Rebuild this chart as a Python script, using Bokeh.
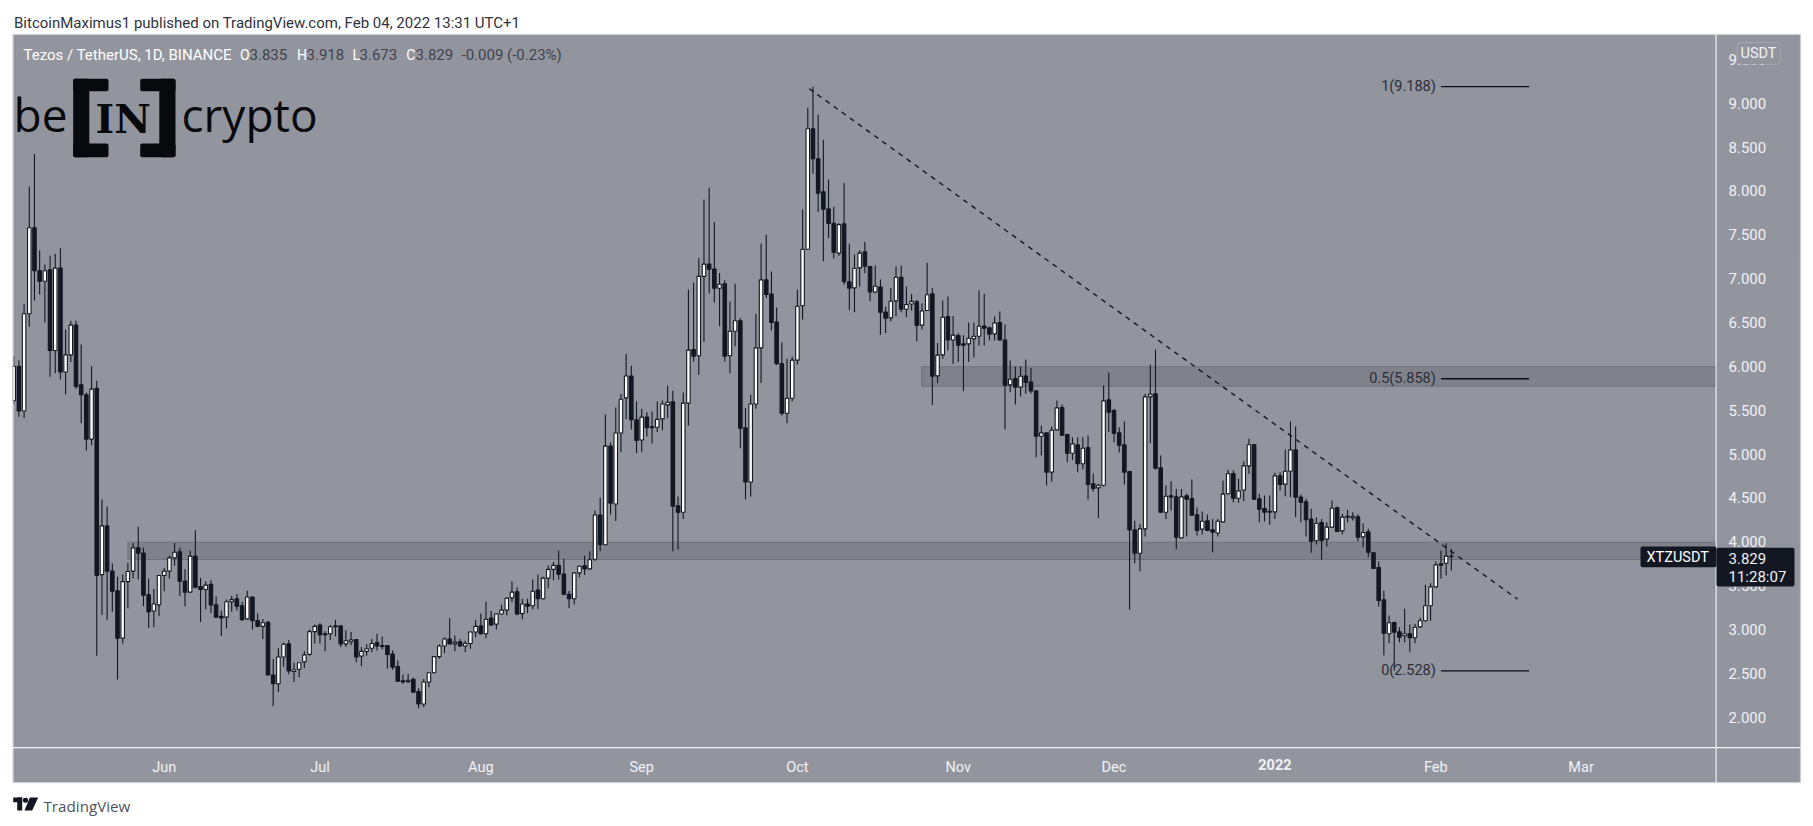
import pandas as pd
from bokeh.embed import file_html
from bokeh.resources import INLINE
from bokeh.plotting import figure
from bokeh.models import (BoxAnnotation, ColumnDataSource, FixedTicker, Label, NumeralTickFormatter,
                          PolyAnnotation, Range1d)

first_day = "2021-05-03"

opens = [5.608,
    6.00,5.49,6.60,7.58,7.09,6.97,7.10,6.18,7.12,5.935,
    6.13,6.47,5.79,5.675,5.17,5.75,3.625,4.18,3.665,3.44,
    2.90,3.545,3.665,3.93,3.87,3.395,3.21,3.28,3.615,3.665,
    3.815,3.885,3.55,3.425,3.835,3.49,3.455,3.515,3.28,3.15,
    3.14,3.315,3.35,3.27,3.12,3.37,3.10,3.035,3.08,2.48,
    2.38,2.685,2.835,2.52,2.545,2.63,2.715,2.975,3.05,2.95,
    2.95,3.04,3.04,2.835,2.86,2.885,2.695,2.75,2.785,2.85,
    2.815,2.815,2.72,2.575,2.415,2.405,2.43,2.29,2.15,2.40,
    2.505,2.69,2.81,2.89,2.835,2.86,2.81,2.84,2.97,3.04,
    2.95,3.13,3.06,3.175,3.22,3.36,3.43,3.18,3.29,3.27,
    3.45,3.35,3.585,3.685,3.73,3.63,3.40,3.35,3.645,3.725,
    3.69,3.80,4.305,3.965,5.09,4.43,5.24,5.64,5.89,5.39,
    5.16,5.42,5.31,5.305,5.40,5.56,5.595,4.41,4.335,5.58,
    6.19,6.12,7.025,7.165,7.11,6.89,6.94,6.12,6.40,6.52,
    5.30,4.68,5.57,6.21,6.985,6.825,6.505,6.03,5.465,5.635,
    6.07,6.69,7.335,8.708,8.366,7.99,7.795,7.63,7.29,7.624,
    6.963,6.894,7.122,7.305,7.137,6.848,6.905,6.62,6.552,6.746,
    7.016,6.651,6.71,6.735,6.47,6.636,6.826,5.891,6.13,6.567,
    6.30,6.35,6.256,6.256,6.313,6.343,6.46,6.438,6.37,6.50,
    6.30,5.788,5.86,5.762,5.89,5.82,5.72,5.203,5.241,4.793,
    5.275,5.53,5.222,5.009,5.104,4.888,5.074,4.66,4.614,4.644,
    5.617,5.496,5.241,5.104,4.80,4.135,3.869,4.146,5.651,5.686,
    4.842,4.336,4.523,4.511,4.044,4.523,4.492,4.306,4.143,4.238,
    4.135,4.10,4.226,4.546,4.778,4.496,4.59,4.865,5.108,4.489,
    4.379,4.337,4.34,4.751,4.656,4.804,5.047,4.51,4.455,4.257,
    4.01,4.219,4.029,4.166,4.386,4.124,4.29,4.272,4.284,4.055,
    4.112,3.873,3.706,3.337,2.95,3.079,2.972,2.927,2.95,2.904,
    3.029,3.098,3.269,3.485,3.748,3.755,3.835]

highs = [6.119,
    6.07,6.71,8.05,8.42,7.32,7.16,7.26,7.28,7.345,6.42,
    6.52,6.52,6.25,5.70,6.00,5.835,4.48,4.40,3.755,3.60,
    3.625,3.76,3.985,4.17,3.93,3.58,3.46,3.62,3.70,3.84,
    3.985,3.93,3.69,3.90,4.13,3.59,3.55,3.56,3.375,3.215,
    3.34,3.38,3.405,3.315,3.44,3.375,3.18,3.12,3.10,2.66,
    2.785,2.85,2.88,2.62,2.62,2.75,3.00,3.055,3.07,2.98,
    3.05,3.11,3.04,2.99,2.97,2.89,2.80,2.83,2.89,2.95,
    2.92,2.82,2.76,2.645,2.485,2.495,2.45,2.33,2.435,2.505,
    2.695,2.83,2.91,3.13,2.93,2.89,2.87,2.975,3.11,3.18,
    3.315,3.21,3.18,3.28,3.37,3.545,3.48,3.35,3.35,3.57,
    3.625,3.60,3.73,3.77,3.90,3.805,3.44,3.65,3.73,3.84,
    3.89,4.355,4.50,5.45,5.13,5.53,5.685,6.14,6.005,5.60,
    5.515,5.48,5.485,5.60,5.61,5.78,5.72,4.515,5.70,6.875,
    6.955,7.235,7.90,8.035,7.645,7.065,6.98,6.74,6.94,6.55,
    5.525,5.675,6.60,7.40,7.50,7.08,6.67,6.27,6.085,6.11,
    6.875,7.787,8.947,9.188,8.867,8.583,8.13,7.82,7.63,8.09,
    7.396,7.274,7.32,7.42,7.14,7.149,6.99,6.68,6.894,7.137,
    7.149,6.909,6.825,6.76,6.72,7.18,6.894,6.267,6.75,6.795,
    6.57,6.38,6.355,6.50,6.50,6.864,6.826,6.45,6.567,6.625,
    6.476,6.066,5.997,5.997,6.077,5.98,5.72,5.325,5.24,5.313,
    5.61,5.564,5.23,5.19,5.19,5.19,5.21,4.774,4.66,5.78,
    5.929,5.515,5.306,5.37,4.81,4.24,4.203,5.686,6.02,6.19,
    4.983,4.64,4.69,4.60,4.60,4.546,4.709,4.39,4.344,4.31,
    4.26,4.26,4.698,4.82,4.812,4.717,4.914,5.173,5.11,4.546,
    4.527,4.527,4.785,4.793,5.05,5.37,5.314,4.538,4.489,4.375,
    4.28,4.26,4.223,4.47,4.40,4.318,4.363,4.337,4.31,4.21,
    4.147,3.88,3.774,3.444,3.158,3.09,3.025,3.235,3.056,3.063,
    3.132,3.51,3.527,3.774,3.90,3.983,3.918]

lows = [5.565,
    5.425,5.41,6.45,6.75,6.82,6.50,5.88,5.92,5.85,5.68,
    6.05,5.74,5.35,5.04,5.10,2.70,3.165,3.11,3.20,2.43,
    2.84,3.24,3.58,3.57,3.265,3.015,3.025,3.15,3.435,3.58,
    3.725,3.38,3.265,3.415,3.47,3.085,3.23,3.185,3.13,2.925,
    3.01,3.20,3.215,3.095,3.11,3.00,3.025,2.89,2.48,2.126,
    2.285,2.575,2.49,2.40,2.455,2.56,2.70,2.84,2.84,2.75,
    2.88,2.92,2.80,2.80,2.82,2.625,2.58,2.70,2.74,2.76,
    2.77,2.55,2.54,2.40,2.38,2.39,2.275,2.10,2.115,2.34,
    2.50,2.665,2.73,2.83,2.75,2.80,2.74,2.78,2.91,2.94,
    2.90,3.04,3.0,3.17,3.16,3.31,3.16,3.115,3.185,3.23,
    3.23,3.34,3.47,3.56,3.57,3.39,3.24,3.285,3.595,3.62,
    3.68,3.78,3.89,3.965,4.31,4.235,5.02,5.40,5.28,5.01,
    5.02,5.20,5.12,5.25,5.27,5.41,3.89,3.91,4.26,5.325,
    6.055,5.905,6.28,6.83,6.73,6.457,6.055,5.92,6.23,5.065,
    4.48,4.515,5.515,5.81,6.78,6.41,6.015,5.44,5.35,5.60,
    6.02,6.53,7.33,8.195,7.758,7.198,7.464,7.23,7.26,6.93,
    6.643,6.617,6.91,7.06,6.742,6.833,6.358,6.377,6.514,6.571,
    6.617,6.56,6.635,6.286,6.42,6.63,5.56,5.807,6.085,6.18,
    6.03,6.05,5.716,6.05,6.10,6.237,6.237,6.294,6.294,6.294,
    5.279,5.705,5.564,5.655,5.686,5.686,4.964,4.983,4.64,4.686,
    5.27,5.21,4.907,4.933,4.793,4.823,4.48,4.572,4.27,4.63,
    5.25,5.135,5.017,4.652,3.227,3.755,3.664,4.059,5.123,4.82,
    4.33,4.26,4.355,3.915,4.04,4.059,4.30,4.07,4.082,4.12,
    3.88,4.06,4.222,4.538,4.447,4.443,4.462,4.774,4.485,4.223,
    4.23,4.192,4.26,4.584,4.519,4.508,4.28,4.223,4.06,3.873,
    3.968,3.793,3.945,4.158,4.109,4.082,4.222,4.242,4.006,3.938,
    3.824,3.687,3.261,2.702,2.843,2.528,2.854,2.854,2.74,2.843,
    3.018,3.09,3.10,3.48,3.577,3.615,3.673]

closes = [6.00,
    5.49,6.60,7.58,7.09,6.97,7.09,6.18,7.12,5.935,6.13,
    6.47,5.77,5.675,5.17,5.74,3.615,4.18,3.665,3.435,2.90,
    3.545,3.66,3.93,3.87,3.39,3.20,3.29,3.615,3.665,3.815,
    3.88,3.55,3.425,3.835,3.48,3.455,3.505,3.28,3.14,3.13,
    3.315,3.34,3.265,3.11,3.37,3.10,3.035,3.075,2.48,2.38,
    2.685,2.83,2.525,2.54,2.62,2.71,2.975,3.035,2.94,2.94,
    3.03,3.03,2.835,2.87,2.88,2.685,2.75,2.78,2.84,2.81,
    2.805,2.715,2.57,2.41,2.40,2.42,2.285,2.15,2.40,2.505,
    2.69,2.81,2.89,2.835,2.855,2.81,2.84,2.97,3.035,2.95,
    3.115,3.05,3.175,3.22,3.355,3.425,3.175,3.29,3.265,3.435,
    3.35,3.585,3.685,3.73,3.63,3.40,3.35,3.645,3.72,3.69,
    3.795,4.305,3.965,5.09,4.44,5.24,5.625,5.89,5.39,5.155,
    5.42,5.30,5.30,5.395,5.57,5.59,4.405,4.335,5.58,6.185,
    6.115,7.025,7.165,7.107,6.89,6.935,6.115,6.40,6.52,5.295,
    4.68,5.57,6.21,6.985,6.82,6.50,6.03,5.465,5.635,6.07,
    6.685,7.335,8.708,8.366,7.974,7.79,7.63,7.30,7.616,6.966,
    6.89,7.118,7.29,7.14,6.848,6.913,6.617,6.548,6.742,7.016,
    6.651,6.704,6.74,6.465,6.63,6.815,5.887,6.127,6.56,6.30,
    6.355,6.24,6.24,6.32,6.343,6.457,6.435,6.366,6.495,6.30,
    5.784,5.853,5.762,5.887,5.815,5.72,5.203,5.241,4.793,5.27,
    5.526,5.214,5.009,5.116,4.888,5.066,4.652,4.606,4.644,5.606,
    5.477,5.237,5.10,4.793,4.135,3.869,4.146,5.651,5.682,4.838,
    4.336,4.519,4.511,4.051,4.511,4.485,4.302,4.127,4.234,4.127,
    4.108,4.234,4.542,4.774,4.496,4.58,4.865,5.105,4.485,4.371,
    4.337,4.348,4.751,4.652,4.804,5.047,4.508,4.45,4.25,4.006,
    4.211,4.01,4.166,4.382,4.116,4.28,4.28,4.291,4.052,4.105,
    3.88,3.694,3.33,2.957,3.075,2.969,2.911,2.95,2.904,3.025,
    3.098,3.269,3.485,3.736,3.732,3.835,3.829]

assert len(opens) == len(highs) == len(lows) == len(closes)

price_ticks = [2.0, 2.5, 3.0, 3.5, 4.0, 4.5, 5.0, 5.5, 6.0, 6.5, 7.0, 7.5, 8.0, 8.5, 9.0, 9.5]
month_ticks = {"2021-06-01": "Jun", "2021-07-01": "Jul", "2021-08-01": "Aug", "2021-09-01": "Sep",
               "2021-10-01": "Oct", "2021-11-01": "Nov", "2021-12-01": "Dec", "2022-01-01": "",
               "2022-02-01": "Feb", "2022-03-01": "Mar"}
year_tick = ("2022-01-01", "2022")

zone_low = ("2021-05-25", 3.797, 3.994)
zone_high = ("2021-10-25", 5.773, 5.995)
trend_x = ["2021-10-03 07:00", "2022-02-16 18:00"]
trend_y = [9.165, 3.345]
fib_levels = [(9.188, "1(9.188)"), (5.858, "0.5(5.858)"), (2.528, "0(2.528)")]
fib_span = ("2022-02-02", "2022-02-19")

PANEL = "#93959E"
DARK = "#131722"
AXIS_TXT = "#F0F2F7"
FONT = "Roboto"
W, H = 1813, 826
PX_PER_DAY = 5.19
PX_PER_UNIT = 87.7
DAY = 86400000.0


def ms(d):
    return pd.Timestamp(d).value / 1e6


days = pd.date_range(first_day, periods=len(opens))
x_start = ms("2021-05-04") - 18.4 / PX_PER_DAY * DAY
x_end = x_start + W / PX_PER_DAY * DAY
x_at = lambda px: x_start + px / PX_PER_DAY * DAY
y_at = lambda py: 2 + (716.6 - py) / PX_PER_UNIT

p = figure(width=W, height=H, output_backend="svg", toolbar_location=None,
           x_axis_type="datetime", y_axis_location="right",
           x_range=Range1d(x_start, x_end), y_range=Range1d(y_at(H), y_at(0)),
           min_border=0, min_border_left=0, min_border_right=0, min_border_top=0, min_border_bottom=0,
           background_fill_color="white", border_fill_color="white", outline_line_color=None)
p.grid.visible = False


def box(x0, y0, x1, y1, color, level="annotation", line=None, lw=1, radius=0):
    b = BoxAnnotation(left=x0, right=x1, top=y0, bottom=y1,
                      left_units="canvas", right_units="canvas", top_units="canvas", bottom_units="canvas",
                      fill_color=color, fill_alpha=1, line_color=line, line_width=lw, level=level,
                      border_radius=radius, editable=False)
    p.add_layout(b)
    return b


def text(px, py, s, size=14, color="#FFFFFF", align="left", base="middle", font=FONT, style="normal"):
    p.add_layout(Label(x=px, y=H - py, x_units="screen", y_units="screen", text=s,
                       text_font=font, text_font_size=f"{size}px", text_color=color, text_align=align,
                       text_baseline=base, text_font_style=style))


def poly(xs, ys, color):
    p.add_layout(PolyAnnotation(xs=xs, ys=ys, xs_units="canvas",
                                ys_units="canvas", fill_color=color, fill_alpha=1, line_color=None,
                                editable=False))


# panel behind everything
box(12.5, 34, 1800, 782, PANEL, level="underlay", line="#CDCFD6", lw=1.4)

# zones
far = x_at(1715.5)
for start, lo, hi in (zone_low, zone_high):
    p.quad(left=[ms(start)], right=[far], bottom=[lo], top=[hi], fill_color="#80828B", fill_alpha=1,
           line_color="#72747D", line_width=1.2)

# candles
colors = ["#FFFFFF" if c >= o else DARK for o, c in zip(opens, closes)]
src = ColumnDataSource(dict(x=days, o=opens, h=highs, l=lows, c=closes,
                            top=[max(a, b) for a, b in zip(opens, closes)],
                            bot=[min(a, b) for a, b in zip(opens, closes)], col=colors))
p.segment("x", "h", "x", "l", source=src, line_color=DARK, line_width=1.1)
p.vbar(x="x", top="top", bottom="bot", width=3.5 * DAY / PX_PER_DAY, source=src, fill_color="col",
       line_color=DARK, line_width=1.1)
# the chart pane cuts the first candle at its left edge
box(0, 34, 12, 782, "white")
box(12, 33.3, 13.2, 782.7, "#CDCFD6")

# trend line
p.line([ms(t) for t in trend_x], trend_y, line_color=DARK, line_width=1.4, line_dash=[5, 5])

# fib levels
for level, lab in fib_levels:
    p.segment([ms(fib_span[0])], [level], [ms(fib_span[1])], [level], line_color="#0C0E14", line_width=1.3)
    p.add_layout(Label(x=ms("2022-02-01"), y=level, text=lab, text_font=FONT, text_font_size="14.5px",
                       text_color="#2A2E39", text_align="right", text_baseline="middle"))

# axes, pinned to the edges of the chart pane
p.yaxis.fixed_location = x_at(1716)
p.yaxis.ticker = FixedTicker(ticks=price_ticks)
p.yaxis.formatter = NumeralTickFormatter(format="0.000")
p.yaxis.axis_line_color = None
p.yaxis.major_tick_line_color = None
p.yaxis.minor_tick_line_color = None
p.yaxis.major_tick_out = 0
p.yaxis.major_tick_in = 0
p.yaxis.major_label_standoff = 12
p.yaxis.major_label_text_font = FONT
p.yaxis.major_label_text_font_size = "15px"
p.yaxis.major_label_text_color = AXIS_TXT

p.xaxis.fixed_location = y_at(747)
p.xaxis.ticker = FixedTicker(ticks=[ms(k) for k in month_ticks])
p.xaxis.major_label_overrides = {ms(k): v for k, v in month_ticks.items()}
p.xaxis.axis_line_color = None
p.xaxis.major_tick_line_color = None
p.xaxis.minor_tick_line_color = None
p.xaxis.major_tick_out = 0
p.xaxis.major_tick_in = 0
p.xaxis.major_label_standoff = 11
p.xaxis.major_label_text_font = FONT
p.xaxis.major_label_text_font_size = "14.5px"
p.xaxis.major_label_text_color = AXIS_TXT
p.add_layout(Label(x=ms(year_tick[0]), y=y_at(764), text=year_tick[1], text_font=FONT,
                   text_font_size="14.5px", text_font_style="bold", text_color=AXIS_TXT,
                   text_align="center", text_baseline="middle"))

# panel separators
box(1715, 34, 1716.2, 782, "#F2F3F6")
box(12.5, 746.6, 1800, 747.8, "#F2F3F6")

# last price tags
box(1640, 546, 1716, 566.7, DARK, radius=2)
box(1716, 547.3, 1794, 586, DARK, radius=2)
text(1646, 557, "XTZUSDT", size=14.5)
text(1728, 558, "3.829", size=15, color=AXIS_TXT)
text(1728, 576, "11:28:07", size=15, color=AXIS_TXT)

# currency badge
box(1736.7, 42, 1779.7, 64, PANEL, line="#C9CBD2", lw=1, radius=4)
text(1758, 52.5, "USDT", size=14.5, color=AXIS_TXT, align="center")

# header / legend
text(13.5, 22, "BitcoinMaximus1 published on TradingView.com, Feb 04, 2022 13:31 UTC+1", size=15, color="#2F3340")
VAL = "#3F434E"
text(23, 54, "Tezos / TetherUS, 1D, BINANCE", size=15, color="#FFFFFF")
for xl, xv, a, b in ((239.5, 249, "O", "3.835"), (296.6, 306, "H", "3.918"), (352, 359, "L", "3.673"), (405.7, 415, "C", "3.829")):
    text(xl, 54, a, size=14, color="#FFFFFF")
    text(xv, 54, b, size=15, color=VAL)
text(461, 54, "-0.009 (-0.23%)", size=15, color=VAL)

# beincrypto watermark
K = "#08090C"
text(13, 113, "be", size=46, color=K, base="alphabetic", font="Open Sans")
text(181, 113, "crypto", size=46, color=K, base="alphabetic", font="Open Sans")
box(72.7, 78.3, 88.8, 156.7, K, radius=2)
box(72.7, 78.3, 108, 90.7, K, radius=2)
box(72.7, 143, 108, 156.7, K, radius=2)
box(158.8, 78.3, 175, 156.7, K, radius=2)
box(139.7, 78.3, 175, 90.7, K, radius=2)
box(139.7, 143, 175, 156.7, K, radius=2)
text(95, 117.5, "IN", size=40, color=K, font="DejaVu Serif", style="bold")

# TradingView footer
F = "#131722"
box(12.7, 797, 21.7, 801.7, F)
box(16.7, 797, 21.7, 810, F)
box(22.5, 797.3, 27.5, 802.3, F, radius=2)
poly([37.7, 29.3, 24, 31.7], [797, 797, 810, 810], F)
text(43, 805, "TradingView", size=15.2, color="#50535E", font="Open Sans")

open("out.html", "w").write(file_html(p, INLINE))
